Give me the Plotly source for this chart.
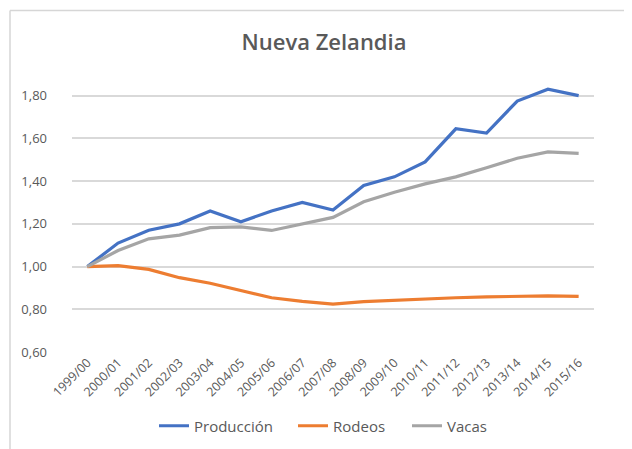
import plotly.graph_objects as go

CATEGORIES = [
    "1999/00", "2000/01", "2001/02", "2002/03", "2003/04", "2004/05",
    "2005/06", "2006/07", "2007/08", "2008/09", "2009/10", "2010/11",
    "2011/12", "2012/13", "2013/14", "2014/15", "2015/16",
]
PRODUCCION = [1.00, 1.11, 1.17, 1.20, 1.26, 1.21, 1.26, 1.30, 1.265, 1.38,
              1.42, 1.49, 1.645, 1.625, 1.775, 1.83, 1.80]
RODEOS = [1.00, 1.004, 0.987, 0.948, 0.922, 0.887, 0.854, 0.837, 0.824, 0.836,
          0.843, 0.847, 0.854, 0.858, 0.859, 0.863, 0.860]
VACAS = [1.00, 1.075, 1.13, 1.147, 1.182, 1.186, 1.169, 1.198, 1.23, 1.303,
         1.348, 1.387, 1.42, 1.463, 1.507, 1.537, 1.53]
Y_TICKS = [0.6, 0.8, 1.0, 1.2, 1.4, 1.6, 1.8]

TEXT_COLOR = "#595959"
GRID_COLOR = "#d9d9d9"

# page body has an 8px margin, so screen px = figure px + 8
OFF = 8
W, H = 632, 449
L, R, T, B = 72 - OFF, W - (594 - OFF), 85 - OFF, H - (352 - OFF)
PW, PH = W - L - R, H - T - B


def px_x(x):
    return (x - OFF - L) / PW


def px_y(y):
    return (H - B - (y - OFF)) / PH


SERIES = [
    ("Producción", PRODUCCION, "#4472C4", 164),
    ("Rodeos", RODEOS, "#ED7D31", 303),
    ("Vacas", VACAS, "#A5A5A5", 417),
]

fig = go.Figure()
legends = {}
for i, (name, values, color, lx) in enumerate(SERIES):
    key = "legend" if i == 0 else f"legend{i + 1}"
    fig.add_trace(
        go.Scatter(
            x=CATEGORIES,
            y=values,
            mode="lines",
            name=name,
            legend=key,
            line=dict(color=color, width=3.2),
        )
    )
    legends[key] = dict(
        orientation="h",
        x=px_x(lx - 10),
        xanchor="left",
        y=px_y(426),
        yanchor="middle",
        font=dict(size=15, color=TEXT_COLOR),
        bgcolor="rgba(0,0,0,0)",
    )

# chart frame (partially cropped in the original screenshot)
fig.add_shape(type="line", xref="paper", yref="paper",
              x0=px_x(10), x1=px_x(660), y0=px_y(10.5), y1=px_y(10.5),
              line=dict(color="#d6d6d6", width=1.5))
fig.add_shape(type="line", xref="paper", yref="paper",
              x0=px_x(10), x1=px_x(10), y0=px_y(10.5), y1=px_y(470),
              line=dict(color="#d6d6d6", width=1.5))

fig.update_layout(
    width=W,
    height=H,
    margin=dict(l=L, r=R, t=T, b=B, autoexpand=False),
    paper_bgcolor="white",
    plot_bgcolor="white",
    separators=",.",
    font=dict(family="Open Sans, sans-serif", color=TEXT_COLOR),
    title=dict(
        text="Nueva Zelandia",
        x=0.5,
        xref="container",
        y=1 - (42 - OFF) / H,
        yanchor="middle",
        font=dict(size=22, color=TEXT_COLOR, family="Open Sans, sans-serif", weight=600),
    ),
    showlegend=True,
    **legends,
)

fig.update_xaxes(
    type="category",
    range=[-0.5, len(CATEGORIES) - 0.5],
    tickangle=-45,
    tickfont=dict(size=12.5, color=TEXT_COLOR),
    showgrid=False,
    showline=False,
    ticks="",
    automargin=False,
    fixedrange=True,
)
fig.update_yaxes(
    range=[0.6, 1.85],
    tickvals=Y_TICKS,
    tickformat=".2f",
    tickfont=dict(size=13, color=TEXT_COLOR),
    showgrid=True,
    gridcolor=GRID_COLOR,
    gridwidth=1.5,
    zeroline=False,
    showline=False,
    ticks="",
    automargin=False,
    ticklabelstandoff=24,
)

fig.write_html("out.html")
